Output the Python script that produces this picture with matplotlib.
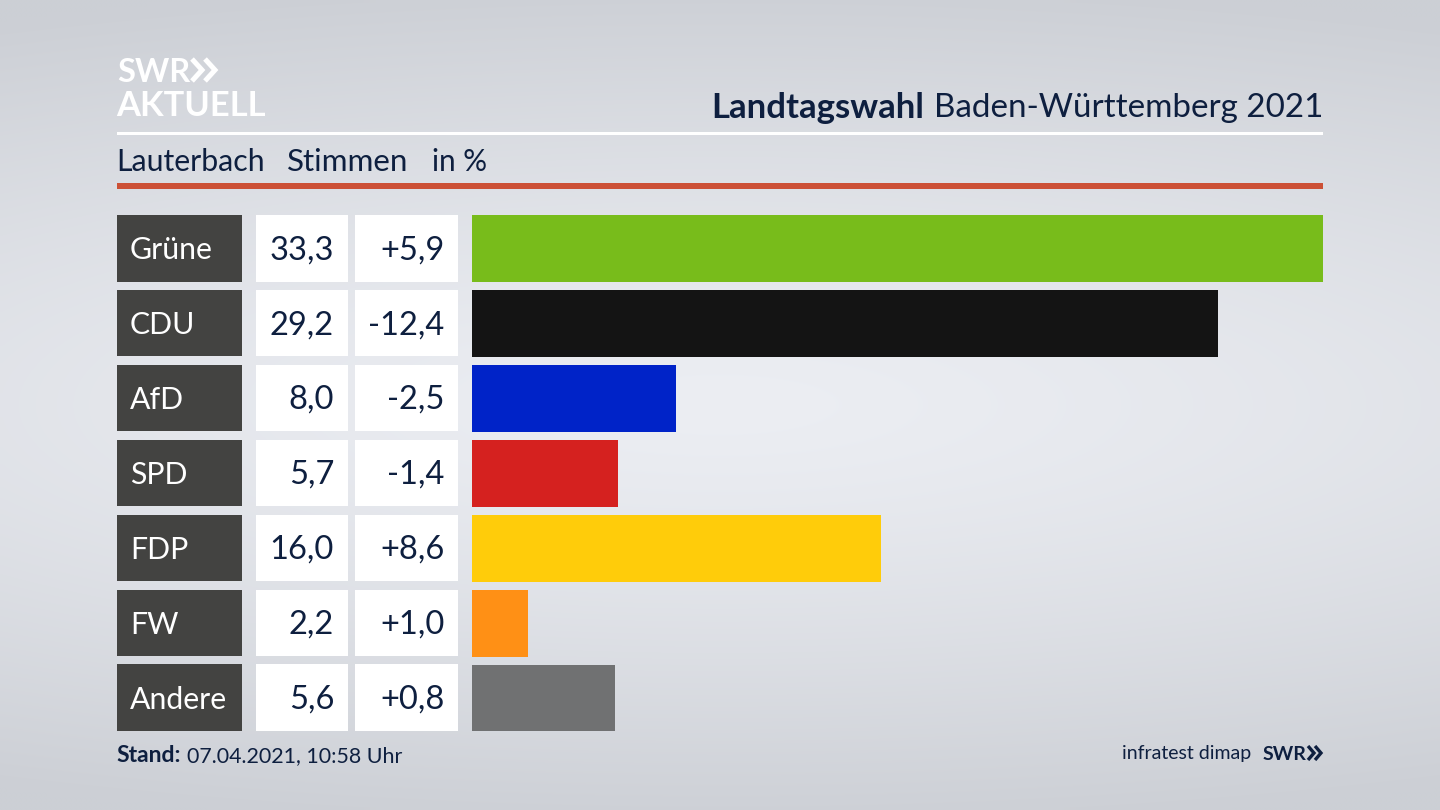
import numpy as np
import matplotlib
matplotlib.use("Agg")
import matplotlib.pyplot as plt
from matplotlib.patches import Rectangle

parteien = ["Grüne", "CDU", "AfD", "SPD", "FDP", "FW", "Andere"]
stimmen = [33.3, 29.2, 8.0, 5.7, 16.0, 2.2, 5.6]
diff = ["+5,9", "-12,4", "-2,5", "-1,4", "+8,6", "+1,0", "+0,8"]
farben = ["#78bc1b", "#141414", "#0023c8", "#d5211f", "#ffcc0a", "#ff9015", "#707172"]

navy = "#0e1f3f"
plt.rcParams["font.family"] = ["Lato", "DejaVu Sans"]

fig = plt.figure(figsize=(14.4, 8.1), dpi=100)

# hintergrund, heller verlauf in der mitte
bg = fig.add_axes([0, 0, 1, 1])
xx, yy = np.meshgrid(np.linspace(-1, 1, 288), np.linspace(-1, 1, 162))
r = np.clip(np.sqrt((xx * 0.45) ** 2 + (yy * 1.0) ** 2) / 1.05, 0, 1)
hell = np.array([236, 238, 243]) / 255
dunkel = np.array([204, 207, 213]) / 255
bild = hell + (dunkel - hell) * r[..., None] ** 1.3
bg.imshow(bild, extent=[0, 1440, 810, 0], aspect="auto", interpolation="bilinear")
bg.set_xlim(0, 1440)
bg.set_ylim(810, 0)
bg.axis("off")

# kopf
bg.add_patch(Rectangle((117, 132), 1206, 3, color="white", lw=0))
bg.add_patch(Rectangle((117, 183), 1206, 6, color="#cc5036", lw=0))

bg.text(117, 73, "SWR", color="white", fontsize=23.5, fontweight="bold", va="center", ha="left")
bg.text(116, 106, "AKTUELL", color="white", fontsize=24.8, fontweight="bold", va="center", ha="left")
for x0 in (192, 205):
    bg.plot([x0, x0 + 10, x0], [59, 70, 81], color="white", lw=3.6, solid_capstyle="butt", solid_joinstyle="miter")

titel = bg.text(1323, 108, "Baden-Württemberg 2021", color=navy, fontsize=23.9, va="center", ha="right")
fig.canvas.draw()
breite = titel.get_window_extent().width
bg.text(1323 - breite - 9, 108, "Landtagswahl", color=navy, fontsize=25, fontweight="bold", va="center", ha="right")

bg.text(116, 162, "Lauterbach", color=navy, fontsize=21.8, va="center")
bg.text(287, 162, "Stimmen", color=navy, fontsize=22.6, va="center")
bg.text(432, 162, "in %", color=navy, fontsize=21.4, va="center")

# tabelle links
for i, partei in enumerate(parteien):
    oben = 215 + i * 74.9
    mitte = oben + 35.2
    bg.add_patch(Rectangle((117, oben), 124.5, 66.5, color="#434341", lw=0))
    bg.add_patch(Rectangle((256, oben), 92, 66.5, color="white", lw=0))
    bg.add_patch(Rectangle((355, oben), 103, 66.5, color="white", lw=0))
    bg.text(130, mitte, partei, color="white", fontsize=21.8, va="center", ha="left")
    bg.text(334, mitte, f"{stimmen[i]:.1f}".replace(".", ","), color=navy, fontsize=23.5, va="center", ha="right")
    bg.text(444.5, mitte, diff[i], color=navy, fontsize=23.5, va="center", ha="right")

# fuss
bg.text(116, 756, "Stand:", color=navy, fontsize=16.5, fontweight="bold", va="center")
bg.text(187, 756, "07.04.2021, 10:58 Uhr", color=navy, fontsize=15.4, va="center")
bg.text(1251, 754, "infratest dimap", color=navy, fontsize=14, va="center", ha="right")
bg.text(1263, 755, "SWR", color=navy, fontsize=14, fontweight="bold", va="center", ha="left")
for x0 in (1308, 1315):
    bg.plot([x0, x0 + 6, x0], [746, 753, 760], color=navy, lw=2.4, solid_capstyle="butt", solid_joinstyle="miter")

# balken
ax = fig.add_axes([472 / 1440, 1 - 731.5 / 810, 851 / 1440, 516.5 / 810])
ax.barh(range(len(parteien)), stimmen, height=66.5 / 74.9, color=farben)
ax.set_xlim(0, 33.3)
ax.set_ylim(6 + 0.444, -0.444)
ax.axis("off")

fig.savefig("out.png", dpi=100)
